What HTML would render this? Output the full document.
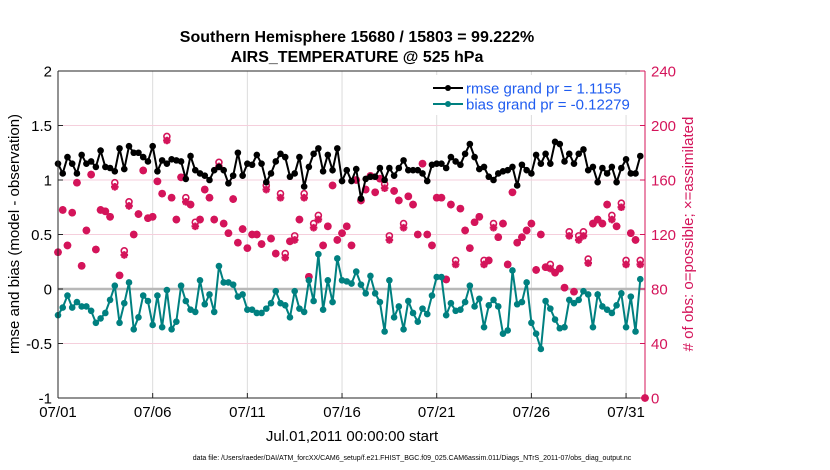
<!DOCTYPE html>
<html><head><meta charset="utf-8"><style>
body{margin:0;background:#fff;}
svg{display:block;font-family:"Liberation Sans",sans-serif;}
</style></head><body>
<svg id="chart" width="830" height="470" viewBox="0 0 830 470" xmlns="http://www.w3.org/2000/svg">
<rect width="830" height="470" fill="#fff"/>
<text x="357" y="42" text-anchor="middle" font-size="16" font-weight="bold">Southern Hemisphere 15680 / 15803 = 99.222%</text>
<text x="357" y="62" text-anchor="middle" font-size="16" font-weight="bold">AIRS_TEMPERATURE @ 525 hPa</text>
<g id="grid"></g>
<g id="marks"></g>
<g id="axes"></g>
<g>
<rect x="428" y="75" width="214" height="40" fill="#fff"/>
<line x1="433" y1="88" x2="463" y2="88" stroke="#000" stroke-width="2"/>
<circle cx="448" cy="88" r="3" fill="#000"/>
<text x="466" y="93.5" font-size="15" fill="#1f5cf0">rmse grand pr = 1.1155</text>
<line x1="433" y1="104" x2="463" y2="104" stroke="#008080" stroke-width="2"/>
<circle cx="448" cy="104" r="3" fill="#008080"/>
<text x="466" y="109.5" font-size="15" fill="#1f5cf0">bias grand pr = -0.12279</text>
</g>
<text transform="translate(19,234) rotate(-90)" text-anchor="middle" font-size="15">rmse and bias (model - observation)</text>
<text transform="translate(693,234) rotate(-90)" text-anchor="middle" font-size="15" fill="#d4145a"># of obs: o=possible; ×=assimilated</text>
<text x="352" y="441" text-anchor="middle" font-size="15">Jul.01,2011 00:00:00 start</text>
<text x="412" y="460" text-anchor="middle" font-size="7">data file: /Users/raeder/DAI/ATM_forcXX/CAM6_setup/f.e21.FHIST_BGC.f09_025.CAM6assim.011/Diags_NTrS_2011-07/obs_diag_output.nc</text>
</svg>
<script>
const xTickLabels = ["07/01","07/06","07/11","07/16","07/21","07/26","07/31"];
const xTickDays = [0,5,10,15,20,25,30];
const yLeftTicks = [-1,-0.5,0,0.5,1,1.5,2];
const yLeftLabels = ["-1","-0.5","0","0.5","1","1.5","2"];
const yRightTicks = [0,40,80,120,160,200,240];
const stepDays = 0.25;
const rmse = [1.15,1.06,1.21,1.15,1.06,1.23,1.15,1.17,1.12,1.27,1.12,1.11,1.08,1.29,1.10,1.31,1.25,1.25,1.21,1.17,1.31,1.08,1.18,1.15,1.19,1.18,1.17,1.01,1.22,1.09,1.06,1.04,1.00,1.09,1.12,1.09,0.97,1.04,1.25,1.04,1.15,
1.14,1.23,1.15,0.98,1.06,1.17,1.24,1.21,1.03,1.06,1.21,0.94,1.12,1.24,1.29,1.08,1.23,1.09,1.29,0.99,1.09,0.99,1.10,0.83,1.01,1.03,1.03,1.11,1.00,1.11,1.04,1.11,1.18,1.09,1.09,1.09,1.06,0.99,1.14,1.15,
1.15,1.11,1.21,1.17,1.14,1.24,1.33,1.21,1.10,1.12,1.03,1.00,1.06,1.08,1.09,1.12,0.95,1.14,1.09,1.06,1.23,1.15,1.24,1.15,1.35,1.33,1.17,1.24,1.15,1.24,1.28,1.09,1.12,0.98,1.11,1.06,1.12,0.98,1.11,1.19,1.06,1.06,1.22];
const bias = [-0.24,-0.17,-0.06,-0.17,-0.12,-0.16,-0.16,-0.20,-0.31,-0.27,-0.22,-0.10,0.03,-0.31,-0.13,0.06,-0.37,-0.26,-0.06,-0.11,-0.33,-0.06,-0.35,-0.01,-0.37,-0.30,0.03,-0.11,-0.19,-0.21,0.08,-0.14,-0.05,-0.21,0.21,0.06,0.06,0.04,-0.07,-0.05,-0.19,
-0.19,-0.22,-0.22,-0.18,-0.13,-0.02,-0.13,-0.15,-0.26,-0.02,-0.18,-0.21,0.08,-0.11,0.32,-0.19,0.08,-0.12,0.28,0.08,0.07,0.05,0.16,0.04,-0.04,0.12,-0.04,-0.12,-0.39,0.08,-0.26,-0.16,-0.37,-0.11,-0.22,-0.30,-0.18,-0.23,-0.06,0.11,
0.11,-0.24,-0.13,-0.20,-0.19,-0.12,0.03,-0.16,-0.09,-0.35,-0.15,-0.10,-0.16,-0.41,-0.38,0.17,-0.14,-0.12,0.06,-0.31,-0.41,-0.55,-0.11,-0.18,-0.28,-0.36,-0.35,-0.10,-0.13,-0.10,-0.02,-0.05,-0.35,-0.05,-0.16,-0.19,-0.22,-0.15,-0.04,-0.35,-0.07,-0.39,0.09];
const assimilated = [107,138,112,136,158,97,123,164,109,138,137,133,155,90,105,141,120,135,167,132,133,159,150,189,147,131,162,144,142,126,131,153,147,131,170,128,121,146,114,124,110,120,
120,113,153,117,106,147,103,115,116,131,147,89,125,131,112,126,156,116,121,126,112,160,145,153,163,151,161,154,116,152,145,125,148,142,120,172,120,112,147,147,
87,142,98,139,123,110,129,133,98,101,125,118,128,98,151,114,118,123,128,94,120,96,95,92,95,81,119,78,116,119,99,128,131,128,142,131,126,140,98,121,116,98,0];
const possible = [107,138,112,136,158,97,123,164,109,138,137,133,158,90,108,144,120,135,167,132,133,159,150,192,147,131,162,147,142,129,131,153,147,131,173,128,121,146,114,124,110,120,
120,113,156,117,106,150,106,115,119,131,150,89,128,134,112,126,156,116,121,126,112,160,145,153,163,151,161,157,119,152,145,128,148,142,120,172,120,112,147,147,
87,142,101,139,123,110,129,133,101,101,128,118,128,98,151,114,118,123,128,94,120,96,98,92,95,81,122,78,119,122,102,128,131,128,142,134,126,143,101,121,116,101,0];

const NS="http://www.w3.org/2000/svg";
const L=58,R=645,T=71,B=398;
const xS=d=>L+(d/31)*(R-L);
const yL=v=>B-(v+1)/3*(B-T);
const yR=c=>B-c/240*(B-T);
function mk(tag,attrs,parent){const e=document.createElementNS(NS,tag);for(const k in attrs)e.setAttribute(k,attrs[k]);parent.appendChild(e);return e;}
const grid=document.getElementById('grid'),marks=document.getElementById('marks'),axes=document.getElementById('axes');
xTickDays.forEach(d=>{const l=mk('line',{x1:xS(d),x2:xS(d),y1:T,y2:B,stroke:'#dcdcdc','stroke-width':1},grid);

});
yRightTicks.forEach(c=>{const l=mk('line',{x1:L,x2:R,y1:yR(c),y2:yR(c),stroke:'#f5cfdc','stroke-width':1},grid);

});
const zl=mk('line',{x1:L,x2:R,y1:yL(0),y2:yL(0),stroke:'#b8b8b8','stroke-width':2.5},grid);


const pink='#d4145a';
possible.forEach((c,i)=>{const x=xS(i*stepDays);
const o=mk('circle',{cx:x,cy:yR(c),r:3,fill:'none',stroke:pink,'stroke-width':1.6},marks);

});
assimilated.forEach((c,i)=>{const x=xS(i*stepDays),y=yR(c),s=3.8,t=2.7;
const p=mk('path',{d:`M${x-s},${y}H${x+s}M${x},${y-s}V${y+s}M${x-t},${y-t}L${x+t},${y+t}M${x-t},${y+t}L${x+t},${y-t}`,stroke:pink,'stroke-width':2.2,fill:'none'},marks);

});
function series(vals,color,name){
const pts=vals.map((v,i)=>xS(i*stepDays).toFixed(1)+','+yL(v).toFixed(1)).join(' ');
const pl=mk('polyline',{points:pts,fill:'none',stroke:color,'stroke-width':2},marks);


vals.forEach((v,i)=>{const c=mk('circle',{cx:xS(i*stepDays),cy:yL(v),r:3.3,fill:color},marks);

});}
series(bias,'#008080','bias');
series(rmse,'#000','rmse');
const la=mk('line',{x1:L,x2:L,y1:T,y2:B,stroke:'#262626','stroke-width':1},axes);


const ra=mk('line',{x1:R,x2:R,y1:T,y2:B,stroke:pink,'stroke-width':1},axes);


const ba=mk('line',{x1:L,x2:R,y1:B,y2:B,stroke:'#262626','stroke-width':1},axes);


const ta=mk('line',{x1:L,x2:R,y1:T,y2:T,stroke:'#262626','stroke-width':1},axes);


yLeftTicks.forEach((v,i)=>{const y=yL(v);
mk('line',{x1:L,x2:L+5,y1:y,y2:y,stroke:'#262626'},axes);
const t=mk('text',{x:L-6,y:y+5.5,'text-anchor':'end','font-size':15},axes);t.textContent=yLeftLabels[i];

});
yRightTicks.forEach(c=>{const y=yR(c);
mk('line',{x1:R-5,x2:R,y1:y,y2:y,stroke:pink},axes);
const t=mk('text',{x:R+6,y:y+5.5,'font-size':15,fill:pink},axes);t.textContent=String(c);

});
xTickDays.forEach((d,i)=>{const x=xS(d);
mk('line',{x1:x,x2:x,y1:B,y2:B-5,stroke:'#262626'},axes);
const t=mk('text',{x:x,y:B+19,'text-anchor':'middle','font-size':15},axes);t.textContent=xTickLabels[i];

});
</script>
</body></html>
